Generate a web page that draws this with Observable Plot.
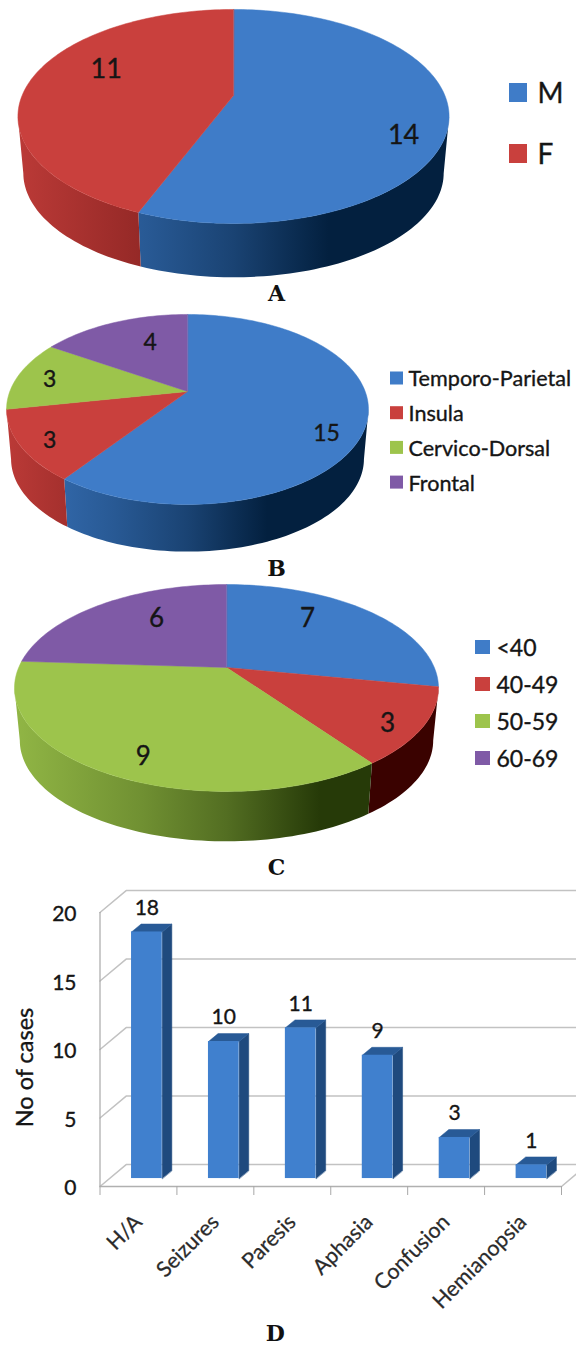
<!DOCTYPE html>
<html>
<head>
<meta charset="utf-8">
<script src="https://cdn.jsdelivr.net/npm/d3@7"></script>
<script src="https://cdn.jsdelivr.net/npm/@observablehq/plot@0.6"></script>
<style>
html,body{margin:0;padding:0;background:#fff}
svg{display:block}
</style>
</head>
<body>
<div id="root"></div>
<script>
// ---------- data ----------
const sexNames = ["M", "F"];
const sexCounts = [14, 11];
const siteNames = ["Temporo-Parietal", "Insula", "Cervico-Dorsal", "Frontal"];
const siteCounts = [15, 3, 3, 4];
const ageNames = ["<40", "40-49", "50-59", "60-69"];
const ageCounts = [7, 3, 9, 6];
const symptomNames = ["H/A", "Seizures", "Paresis", "Aphasia", "Confusion", "Hemianopsia"];
const symptomCounts = [18, 10, 11, 9, 3, 1];
const yTicks = [0, 5, 10, 15, 20];

// ---------- palette ----------
const BLUE = "#3f7cc8", RED = "#c9403d", GREEN = "#9dc44c", PURPLE = "#7f5aa6";
const DARK = {[BLUE]: "#03203f", [RED]: "#3a0200", [GREEN]: "#263a08", [PURPLE]: "#2a1540"};
const FONT = "Lato, 'Open Sans', sans-serif";
const INK = "#151515";
const HEAVY = {stroke: INK, strokeWidth: .35};
const root = document.getElementById("root");

function pie(cfg) {
  const {names, counts, colors, top, H, vx, vy, a, b, k, depth, shrink, labels, legend, letter, tag} = cfg;
  const total = d3.sum(counts);
  const project = (r, deg) => {
    const t = deg * Math.PI / 180, u = r * Math.sin(t), v = -r * Math.cos(t), w = 1 - k * v;
    return [vx + a * u / w, vy + b * v / w];
  };
  const lower = ([x, y]) => [vx + (x - vx) * shrink, vy + (y - vy) * shrink + depth];
  let acc = 0;
  const slices = counts.map((c, i) => {
    const start = acc / total * 360; acc += c;
    return {i, c, start, end: acc / total * 360};
  });
  // the rim's silhouette: the angles at which the rim reaches furthest right and left
  const degs = d3.range(0, 360, .5);
  const frontFrom = degs[d3.greatestIndex(degs, d => project(1, d)[0])];
  const frontTo = degs[d3.leastIndex(degs, d => project(1, d)[0])];
  const arc = (from, to) => {
    const n = Math.max(2, Math.ceil((to - from) / 1.5));
    return d3.range(n + 1).map(j => project(1, from + (to - from) * j / n));
  };
  const faces = [], walls = [];
  for (const s of slices) {
    const rim = arc(s.start, s.end);
    for (const p of [[vx, vy], ...rim]) faces.push({i: s.i, x: p[0], y: p[1]});
    const from = Math.max(s.start, frontFrom), to = Math.min(s.end, frontTo);
    if (to > from) {
      const front = arc(from, to);
      for (const p of [...front, ...front.map(lower).reverse()]) walls.push({i: s.i, x: p[0], y: p[1]});
    }
  }
  const left = vx - a * 1.02, right = vx + a * 1.02;
  const defs = () => {
    const d = d3.create("svg:defs");
    colors.forEach((col, i) => {
      const g = d.append("linearGradient").attr("id", `${tag}${i}`)
        .attr("gradientUnits", "userSpaceOnUse").attr("x1", left).attr("x2", right).attr("y1", 0).attr("y2", 0);
      const mix = d3.interpolateRgb(col, DARK[col]);
      [[0, .1], [.3, .38], [.5, .62], [.72, 1], [1, 1]].forEach(([o, m]) =>
        g.append("stop").attr("offset", o).attr("stop-color", mix(m)));
    });
    return d.node();
  };
  const labelData = slices.map((s, i) => {
    const [r, f] = labels[i], p = project(r, s.start + f * (s.end - s.start));
    return {x: p[0], y: p[1], t: String(s.c)};
  });
  const legendData = names.map((n, i) => ({n, i, col: colors[i], y: legend.y + i * legend.step}));
  const marks = [defs];
  slices.forEach(s => marks.push(Plot.line(walls.filter(d => d.i === s.i),
    {x: "x", y: "y", fill: `url(#${tag}${s.i})`, stroke: "none", curve: "linear-closed"})));
  slices.forEach(s => marks.push(Plot.line(faces.filter(d => d.i === s.i),
    {x: "x", y: "y", fill: colors[s.i], stroke: colors[s.i], strokeWidth: .5, curve: "linear-closed"})));
  marks.push(Plot.text(labelData, {x: "x", y: "y", text: "t", fontSize: cfg.labelSize, fontFamily: FONT, fill: INK, lineAnchor: "middle", ...HEAVY}));
  marks.push(Plot.rect(legendData, {
    x1: legend.x, x2: legend.x + legend.w,
    y1: d => d.y - legend.h / 2, y2: d => d.y + legend.h / 2, fill: "col"}));
  marks.push(Plot.text(legendData, {x: legend.textX, y: d => d.y + 1, text: "n", textAnchor: "start",
    fontSize: legend.size, fontFamily: FONT, fill: INK, lineAnchor: "middle", ...HEAVY}));
  marks.push(Plot.text([letter.t], {x: letter.x, y: letter.y, text: d => d, fontSize: 22, fontWeight: "bold",
    fontFamily: "'DejaVu Serif', serif", fill: "#111", lineAnchor: "middle"}));
  return Plot.plot({
    width: 576, height: H, margin: 0,
    x: {type: "linear", domain: [0, 576], range: [0, 576], axis: null},
    y: {type: "linear", domain: [top, top + H], range: [0, H], axis: null},
    color: {type: "identity"},
    style: {background: "#fff", display: "block"},
    marks
  });
}

root.append(pie({
  tag: "a", names: sexNames, counts: sexCounts, colors: [BLUE, RED], top: 0, H: 310,
  vx: 233, vy: 95, a: 211.4, b: 102.9, k: .196, depth: 57, shrink: .975, labelSize: 27,
  labels: [[.83, .574], [.688, .576]],
  legend: {x: 509, w: 18, h: 19, y: 92.5, step: 61, textX: 537, size: 28},
  letter: {t: "A", x: 276, y: 293}
}));
root.append(pie({
  tag: "b", names: siteNames, counts: siteCounts, colors: [BLUE, RED, GREEN, PURPLE], top: 310, H: 272,
  vx: 187, vy: 391, a: 177.7, b: 91.6, k: .189, depth: 50, shrink: .975, labelSize: 23,
  labels: [[.834, .557], [.856, .45], [.807, .472], [.64, .627]],
  legend: {x: 390, w: 13, h: 13, y: 378, step: 34.7, textX: 408, size: 21.6},
  letter: {t: "B", x: 276, y: 568}
}));
root.append(pie({
  tag: "c", names: ageNames, counts: ageCounts, colors: [BLUE, RED, GREEN, PURPLE], top: 582, H: 298,
  vx: 226, vy: 667, a: 207.8, b: 99.4, k: .198, depth: 53, shrink: .975, labelSize: 26,
  labels: [[.696, .381], [.862, .583], [.833, .464], [.661, .603]],
  legend: {x: 475, w: 15, h: 14, y: 647, step: 37, textX: 496, size: 23},
  letter: {t: "C", x: 276, y: 867}
}));

// ---------- panel D ----------
const barX0 = .41, barX1 = .809, depX = .125, depY = .58, lift = .58, backX = .34, backY = 1.6;
const bars = symptomNames.map((name, i) => ({
  name, i, v: symptomCounts[i], x1: i + barX0, x2: i + barX1, base: lift, top: symptomCounts[i] + lift
}));
const sides = bars.flatMap(b => [
  {i: b.i, x: b.x2, y: b.base}, {i: b.i, x: b.x2, y: b.top},
  {i: b.i, x: b.x2 + depX, y: b.top + depY}, {i: b.i, x: b.x2 + depX, y: b.base + depY}
]);
const caps = bars.flatMap(b => [
  {i: b.i, x: b.x1, y: b.top}, {i: b.i, x: b.x1 + depX, y: b.top + depY},
  {i: b.i, x: b.x2 + depX, y: b.top + depY}, {i: b.i, x: b.x2, y: b.top}
]);
const wallLines = yTicks.flatMap(v => [
  {v, x: 0, y: v}, {v, x: backX, y: v + backY}, {v, x: 6.25, y: v + backY}
]);
const GRID = "#c2c2c2";
root.append(Plot.plot({
  width: 576, height: 468,
  marginLeft: 99.5, marginRight: 15, marginTop: 32, marginBottom: 162,
  x: {type: "linear", domain: [0, 6], axis: null},
  y: {type: "linear", domain: [0, 20], axis: null},
  style: {background: "#fff", display: "block", overflow: "hidden"},
  marks: [
    Plot.line(wallLines, {x: "x", y: "y", z: "v", stroke: GRID, strokeWidth: 1.5, curve: "linear"}),
    Plot.line([{x: 6, y: 0}, {x: 6.2, y: .95}], {x: "x", y: "y", stroke: GRID, strokeWidth: 1.5, curve: "linear"}),
    Plot.ruleX([0], {y1: 0, y2: 20, stroke: "#a8a8a8", strokeWidth: 1.2}),
    Plot.ruleY([0], {x1: 0, x2: 6, stroke: "#b0b0b0", strokeWidth: 1.5}),
    Plot.tickY(yTicks, {y: d => d, stroke: "#a8a8a8", insetRight: 576 - 99.5 - 15, dx: -8, marginLeft: 99.5}),
    Plot.text(yTicks, {frameAnchor: "left", y: d => d, text: d => String(d), dx: -23.5, dy: 2, textAnchor: "end",
      lineAnchor: "middle", fontSize: 21, fontFamily: FONT, fill: INK, ...HEAVY}),
    Plot.axisX({ticks: d3.range(0, 7), tickSize: 9, tickFormat: () => "", stroke: "#a8a8a8", label: null}),
    Plot.line(sides, {x: "x", y: "y", z: "i", fill: "#1f4a7e", stroke: "#1f4a7e", strokeWidth: .5, curve: "linear-closed"}),
    Plot.line(caps, {x: "x", y: "y", z: "i", fill: "#285a96", stroke: "#285a96", strokeWidth: .5, curve: "linear-closed"}),
    Plot.rect(bars, {x1: "x1", x2: "x2", y1: "base", y2: "top", fill: "#4080ce"}),
    Plot.text(bars, {x: d => (d.x1 + d.x2) / 2, y: "top", dy: -24, text: d => String(d.v), fontSize: 21,
      fontFamily: FONT, fill: INK, lineAnchor: "middle", ...HEAVY}),
    Plot.text(bars, {x: d => d.i + .5, y: 0, dy: 32, text: "name", rotate: -45, textAnchor: "end",
      lineAnchor: "middle", fontSize: 21.5, fontFamily: FONT, fill: "#2a2a2a", stroke: "#2a2a2a", strokeWidth: .25}),
    Plot.text(["No of cases"], {frameAnchor: "left", dx: -74.5, dy: 18, rotate: -90, textAnchor: "middle",
      lineAnchor: "middle", text: d => d, fontSize: 23.5, fontFamily: FONT, fill: INK, ...HEAVY}),
    Plot.text(["D"], {x: 2.28, y: 0, dy: 147, text: d => d, fontSize: 22, fontWeight: "bold",
      fontFamily: "'DejaVu Serif', serif", fill: "#111", lineAnchor: "middle"})
  ]
}));
</script>
</body>
</html>
